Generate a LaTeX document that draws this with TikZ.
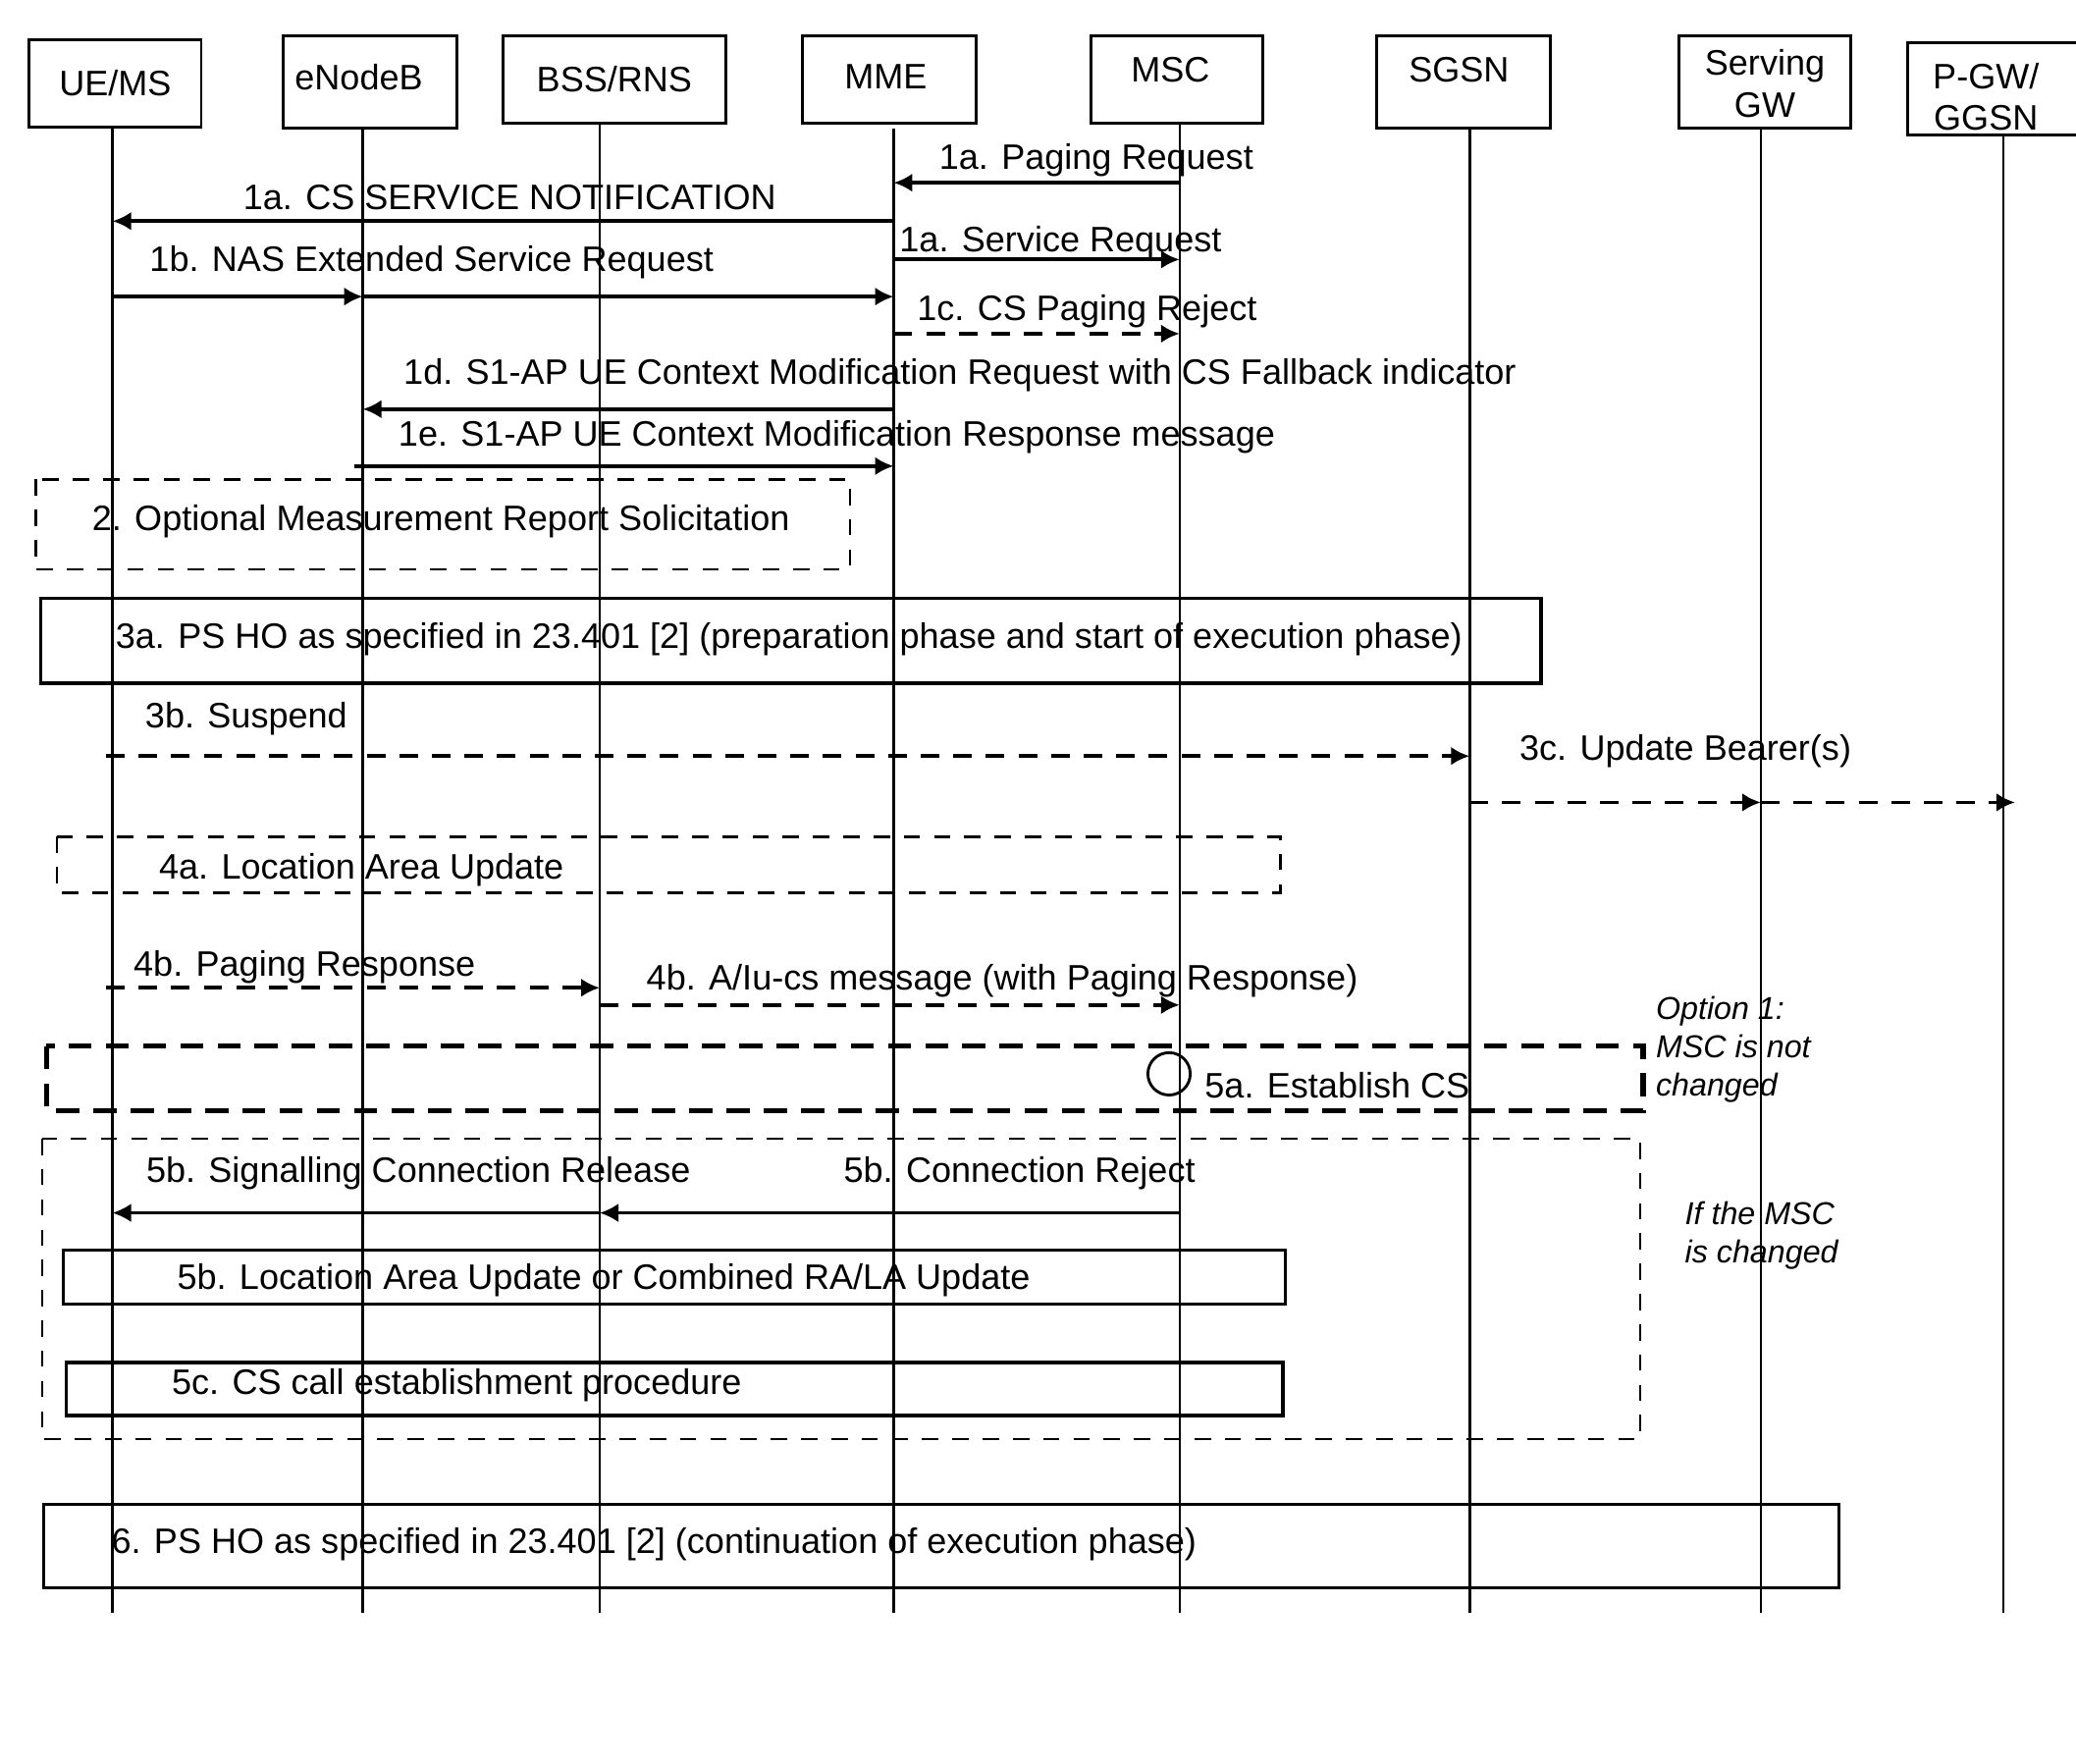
\documentclass[tikz,border=0pt]{standalone}
\usepackage{fontspec}
\setmainfont{Liberation Sans}
\usetikzlibrary{arrows.meta}
\begin{document}
\begin{tikzpicture}[x=0.01cm,y=-0.01cm,
  every node/.style={font=\fontsize{7.6}{9}\selectfont},
  ent/.style={draw,line width=0.6pt,inner sep=0pt,align=center},
  life/.style={line width=0.55pt},
  msg/.style={line width=0.8pt,-{Latex[length=4pt,width=4pt]}},
  dmsg/.style={msg,dash pattern=on 4pt off 3pt},
  box/.style={draw,line width=0.7pt},
  dbox/.style={draw,line width=0.6pt,dash pattern=on 3.5pt off 3pt},
  lbl/.style={inner sep=0pt},
  it/.style={inner sep=0pt,font=\fontsize{6.8}{8.2}\selectfont\itshape,align=left}]
\useasboundingbox (0,0) rectangle (1568,1332);
% entities
\node[ent,minimum width=1.30cm,minimum height=0.66cm] (ue) at (87,63) {UE/MS};
\node[ent,minimum width=1.31cm,minimum height=0.70cm] (enb) at (279.5,62) {};
\node[lbl] at (271,58) {eNodeB};
\node[ent,minimum width=1.68cm,minimum height=0.66cm] (bss) at (464,60) {BSS/RNS};
\node[ent,minimum width=1.31cm,minimum height=0.66cm] (mme) at (671.5,60) {};
\node[lbl] at (669,58) {MME};
\node[ent,minimum width=1.30cm,minimum height=0.66cm] (msc) at (889,60) {};
\node[lbl] at (884,53) {MSC};
\node[ent,minimum width=1.31cm,minimum height=0.70cm] (sgsn) at (1105.5,62) {};
\node[lbl] at (1102,53) {SGSN};
\node[ent,minimum width=1.30cm,minimum height=0.70cm] (sgw) at (1333,62) {};
\node[lbl,align=center] at (1333,63) {Serving\\GW};
\node[ent,minimum width=1.28cm,minimum height=0.70cm] (pgw) at (1505,67) {};
\node[lbl,align=center] at (1500,73) {P-GW/\\GGSN};
% lifelines
\foreach \n/\x/\t in {a/85/97,b/274/97,c/453/93,d/675/97,e/891/93,f/1110/97,g/1330/97,h/1513/102}{
  \coordinate (t\n) at (\x,\t); \coordinate (b\n) at (\x,1218);
  \draw[life] (t\n) -- (b\n);}
% messages
\coordinate (m1s) at (891,138); \coordinate (m1e) at (675,138);
\draw[msg] (m1s) -- (m1e); \node[lbl] at (828,121) {1a. Paging Request};
\coordinate (m2s) at (675,167); \coordinate (m2e) at (85,167);
\draw[msg] (m2s) -- (m2e); \node[lbl] at (385,149) {1a. CS SERVICE NOTIFICATION};
\coordinate (m3s) at (675,196); \coordinate (m3e) at (891,196);
\draw[msg] (m3s) -- (m3e); \node[lbl] at (801,183) {1a. Service Request};
\coordinate (m4s) at (85,224); \coordinate (m4m) at (274,224); \coordinate (m4e) at (675,224);
\draw[msg] (m4s) -- (m4m); \draw[msg] (m4m) -- (m4e); \node[lbl] at (326,198) {1b. NAS Extended Service Request};
\coordinate (m5s) at (675,252); \coordinate (m5e) at (891,252);
\draw[dmsg] (m5s) -- (m5e); \node[lbl] at (821,235) {1c. CS Paging Reject};
\coordinate (m6s) at (675,309); \coordinate (m6e) at (274,309);
\draw[msg] (m6s) -- (m6e); \node[lbl] at (725,283) {1d. S1-AP UE Context Modification Request with CS Fallback indicator};
\coordinate (m7s) at (268,352); \coordinate (m7e) at (675,352);
\draw[msg] (m7s) -- (m7e); \node[lbl] at (632,330) {1e. S1-AP UE Context Modification Response message};
% box 2
\draw[dbox] (27,362) rectangle (642,430); \node[lbl] at (333,394) {2. Optional Measurement Report Solicitation};
\draw[box] (31,452) rectangle (1164,516); \node[lbl] at (596,483) {3a. PS HO as specified in 23.401 [2] (preparation phase and start of execution phase)};
\coordinate (m8s) at (80,571); \coordinate (m8e) at (1110,571);
\draw[dmsg] (m8s) -- (m8e); \node[lbl] at (186,543) {3b. Suspend};
\coordinate (m9s) at (1110,606); \coordinate (m9m) at (1330,606); \coordinate (m9e) at (1522,606);
\draw[dmsg] (m9s) -- (m9m); \draw[dmsg] (m9m) -- (m9e); \node[lbl] at (1273,567) {3c. Update Bearer(s)};
\draw[dbox] (43,632) rectangle (967,674); \node[lbl] at (273,657) {4a. Location Area Update};
\coordinate (m10s) at (80,746); \coordinate (m10e) at (453,746);
\draw[dmsg] (m10s) -- (m10e); \node[lbl] at (230,730) {4b. Paging Response};
\coordinate (m11s) at (453,759); \coordinate (m11e) at (891,759);
\draw[dmsg] (m11s) -- (m11e); \node[lbl] at (757,741) {4b. A/Iu-cs message (with Paging Response)};
% 5a
\draw[draw,line width=1.1pt,dash pattern=on 5pt off 3pt] (35,790) rectangle (1241,839);
\draw[line width=0.6pt] (883,811) circle (16);
\node[lbl] at (1010,820) {5a. Establish CS};
\node[it,anchor=north west] at (1250,752) {Option 1:\\MSC is not\\changed};
\draw[dbox,line width=0.5pt] (32,860) rectangle (1239,1087);
\coordinate (m12s) at (891,916); \coordinate (m12e) at (453,916);
\draw[msg,line width=0.6pt] (m12s) -- (m12e); \node[lbl] at (770,886) {5b. Connection Reject};
\coordinate (m13e) at (85,916);
\draw[msg,line width=0.6pt] (m12e) -- (m13e); \node[lbl] at (316,886) {5b. Signalling Connection Release};
\node[it,anchor=north west] at (1272,907) {If the MSC\\is changed};
\draw[box] (48,944) rectangle (971,985); \node[lbl] at (456,967) {5b. Location Area Update or Combined RA/LA Update};
\draw[box] (50,1029) rectangle (969,1069); \node[lbl] at (345,1046) {5c. CS call establishment procedure};
\draw[box] (33,1136) rectangle (1389,1199); \node[lbl] at (494,1166) {6. PS HO as specified in 23.401 [2] (continuation of execution phase)};
\end{tikzpicture}
\end{document}
